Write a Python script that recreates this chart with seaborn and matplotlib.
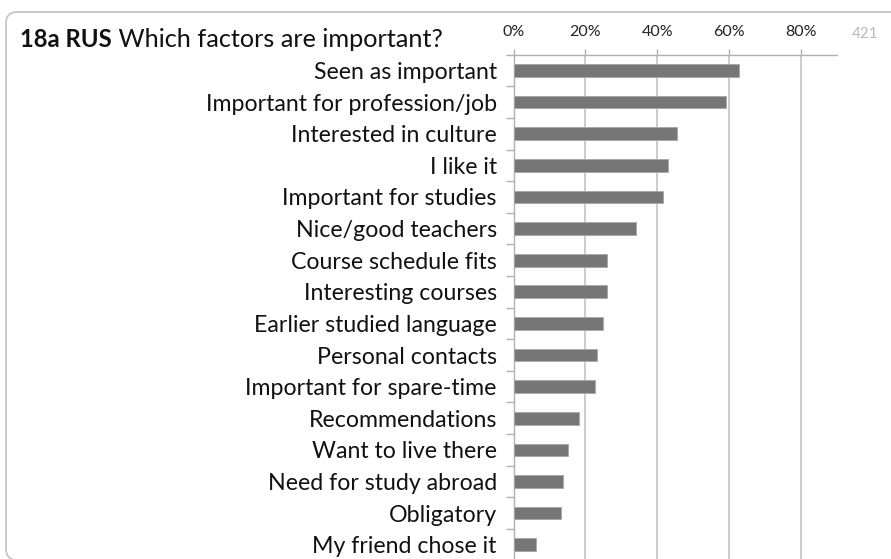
import matplotlib
matplotlib.use("Agg")
import matplotlib.pyplot as plt
from matplotlib.patches import PathPatch
from matplotlib.path import Path
from matplotlib.ticker import FixedLocator, PercentFormatter
import seaborn as sns
import pandas as pd

# Survey answers: share of respondents naming each factor
factors = [
    "Seen as important",
    "Important for profession/job",
    "Interested in culture",
    "I like it",
    "Important for studies",
    "Nice/good teachers",
    "Course schedule fits",
    "Interesting courses",
    "Earlier studied language",
    "Personal contacts",
    "Important for spare-time",
    "Recommendations",
    "Want to live there",
    "Need for study abroad",
    "Obligatory",
    "My friend chose it",
]
shares = [0.627, 0.591, 0.456, 0.429, 0.416, 0.342, 0.261, 0.261,
          0.248, 0.231, 0.226, 0.183, 0.152, 0.139, 0.131, 0.062]
x_ticks = [0.0, 0.2, 0.4, 0.6, 0.8]
title_bold = "18a RUS"
title_rest = " Which factors are important?"
respondents = "421"

df = pd.DataFrame({"factor": factors, "share": shares})

sns.set_theme(style="white")
plt.rcParams["font.family"] = ["Lato", "DejaVu Sans"]

W, H = 891, 559
fig = plt.figure(figsize=(W / 100, H / 100), dpi=100)
fig.patch.set_facecolor("white")

# Frame (top and left edges with rounded corners), in pixel coordinates
bg = fig.add_axes([0, 0, 1, 1], zorder=0)
bg.set_xlim(0, W)
bg.set_ylim(H, 0)
bg.axis("off")
r = 11
fx, fy, fb = 6, 12, 560
frame = Path(
    [(W + 5, fy), (fx + r, fy), (fx, fy), (fx, fy + r),
     (fx, fb - r), (fx, fb), (fx + r, fb)],
    [Path.MOVETO, Path.LINETO, Path.CURVE3, Path.CURVE3,
     Path.LINETO, Path.CURVE3, Path.CURVE3])
bg.add_patch(PathPatch(frame, fill=False, edgecolor="#c6c6c6", linewidth=1.3))

left_px, right_px, top_px, bottom_px = 513.5, 837, 54.7, 560.5
ax = fig.add_axes([left_px / W, (H - bottom_px) / H,
                   (right_px - left_px) / W, (bottom_px - top_px) / H], zorder=1)
ax.patch.set_alpha(0)

sns.barplot(data=df, x="share", y="factor", orient="h", color="#767676",
            width=0.4, saturation=1, edgecolor="#a8a8a8", linewidth=0.6,
            ax=ax, zorder=3)

ax.set_xlim(0, 0.9)
ax.set_ylim(len(factors) - 0.5, -0.5)
ax.set_xlabel("")
ax.set_ylabel("")

# Percent axis on top
ax.xaxis.tick_top()
ax.xaxis.set_major_locator(FixedLocator(x_ticks))
ax.xaxis.set_major_formatter(PercentFormatter(1.0, decimals=0))
ax.tick_params(axis="x", which="major", direction="out", length=4,
               width=1.0, color="#b0b0b0", pad=7, labelsize=11.5,
               labelcolor="#222222", bottom=False, top=True)
for xt in x_ticks[1:]:
    ax.axvline(xt, color="#c4c4c4", linewidth=1.2, zorder=1)

# Category labels with boundary tick marks
ax.tick_params(axis="y", which="major", length=0, pad=12,
               labelsize=16.7, labelcolor="#111111")
ax.yaxis.set_minor_locator(FixedLocator([i - 0.5 for i in range(len(factors) + 1)]))
ax.tick_params(axis="y", which="minor", direction="out", length=6,
               width=1.0, color="#b0b0b0", left=True)

for side in ["right", "bottom"]:
    ax.spines[side].set_visible(False)
for side in ["left", "top"]:
    ax.spines[side].set_color("#b0b0b0")
    ax.spines[side].set_linewidth(1.0)
    ax.spines[side].set_visible(True)

# Title: bold code followed by the question
t1 = bg.text(20, 47, title_bold, fontsize=17.2, fontweight="bold",
             color="#111111", va="baseline", ha="left")
bg.annotate(title_rest, xy=(1, 0), xycoords=t1, va="bottom", ha="left",
            fontsize=18.2, color="#111111")

bg.text(852, 38, respondents, fontsize=11, color="#b8b8b8",
        va="baseline", ha="left")

fig.savefig("out.png", dpi=100, facecolor="white")
